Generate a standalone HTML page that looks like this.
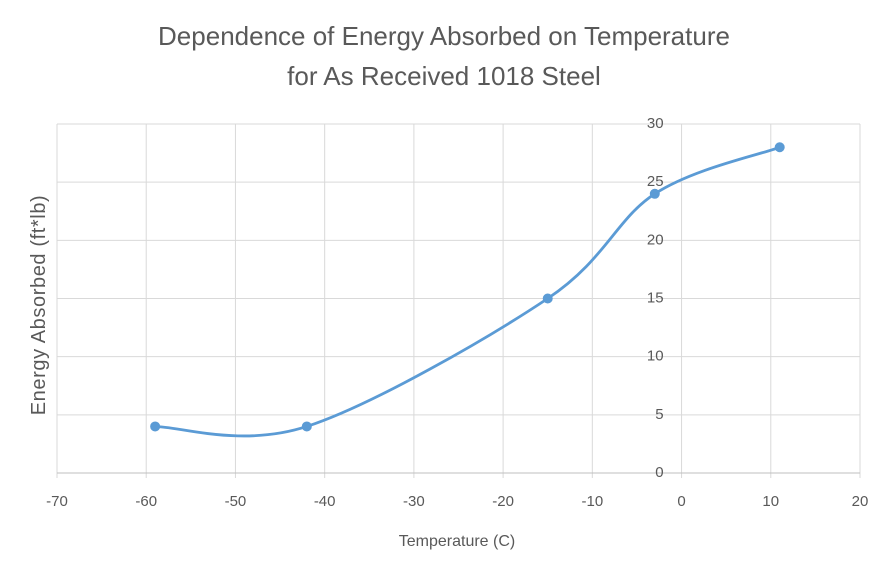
<!DOCTYPE html>
<html><head><meta charset="utf-8"><style>
body{margin:0;background:#fff;}
svg{display:block;font-family:"Liberation Sans",sans-serif;}
</style></head><body>
<svg id="chart" width="889" height="571" viewBox="0 0 889 571">
<g fill="#595959" font-size="26" text-anchor="middle">
<text x="444" y="45">Dependence of Energy Absorbed on Temperature</text>
<text x="444" y="85">for As Received 1018 Steel</text>
</g>
<g id="grid"></g>
<g id="ticks" fill="#595959" font-size="15"></g>
<path id="line" fill="none" stroke="#5b9bd5" stroke-width="2.8" stroke-linecap="round"/>
<g id="pts"></g>
<text x="457" y="546" text-anchor="middle" fill="#595959" font-size="16">Temperature  (C)</text>
<text transform="translate(45,305) rotate(-90)" text-anchor="middle" fill="#595959" font-size="20" letter-spacing="0.6">Energy Absorbed (ft*lb)</text>
</svg>
<script>
const temps=[-59,-42,-15,-3,11];
const energy=[4,4,15,24,28];
const xTicks=[-70,-60,-50,-40,-30,-20,-10,0,10,20];
const yTicks=[0,5,10,15,20,25,30];
const NS="http://www.w3.org/2000/svg";
const X0=57,X1=860,Y0=473,Y1=124;
const xs=v=>X0+(v+70)/90*(X1-X0);
const ys=v=>Y0-v/30*(Y0-Y1);
const grid=document.getElementById('grid'),ticks=document.getElementById('ticks');
function mk(tag,attrs,parent){const e=document.createElementNS(NS,tag);for(const k in attrs)e.setAttribute(k,attrs[k]);parent.appendChild(e);return e;}
xTicks.forEach(t=>{
 const l=mk('line',{x1:xs(t),x2:xs(t),y1:Y1,y2:Y0+5,stroke:'#d9d9d9','stroke-width':1},grid);
 
 
 const tx=mk('text',{x:xs(t),y:Y0+33,'text-anchor':'middle'},ticks);tx.textContent=t;
 
 
});
yTicks.forEach(t=>{
 const l=mk('line',{x1:X0,x2:X1,y1:ys(t),y2:ys(t),stroke:t===0?'#bfbfbf':'#d9d9d9','stroke-width':1},grid);
 
 
 const tx=mk('text',{x:xs(0)-18,y:ys(t)+4,'text-anchor':'end'},ticks);tx.textContent=t;
 
 
});
const P=temps.map((t,i)=>[xs(t),ys(energy[i])]);
let d=`M${P[0][0]},${P[0][1]}`;
for(let i=0;i<P.length-1;i++){
 const p0=P[Math.max(i-1,0)],p1=P[i],p2=P[i+1],p3=P[Math.min(i+2,P.length-1)];
 const c1=[p1[0]+(p2[0]-p0[0])/6,p1[1]+(p2[1]-p0[1])/6];
 const c2=[p2[0]-(p3[0]-p1[0])/6,p2[1]-(p3[1]-p1[1])/6];
 d+=` C${c1[0]},${c1[1]} ${c2[0]},${c2[1]} ${p2[0]},${p2[1]}`;
}
document.getElementById('line').setAttribute('d',d);
const pts=document.getElementById('pts');
P.forEach(p=>{
 const c=mk('circle',{cx:p[0],cy:p[1],r:5,fill:'#5b9bd5'},pts);
 
 
});
</script>
</body></html>
